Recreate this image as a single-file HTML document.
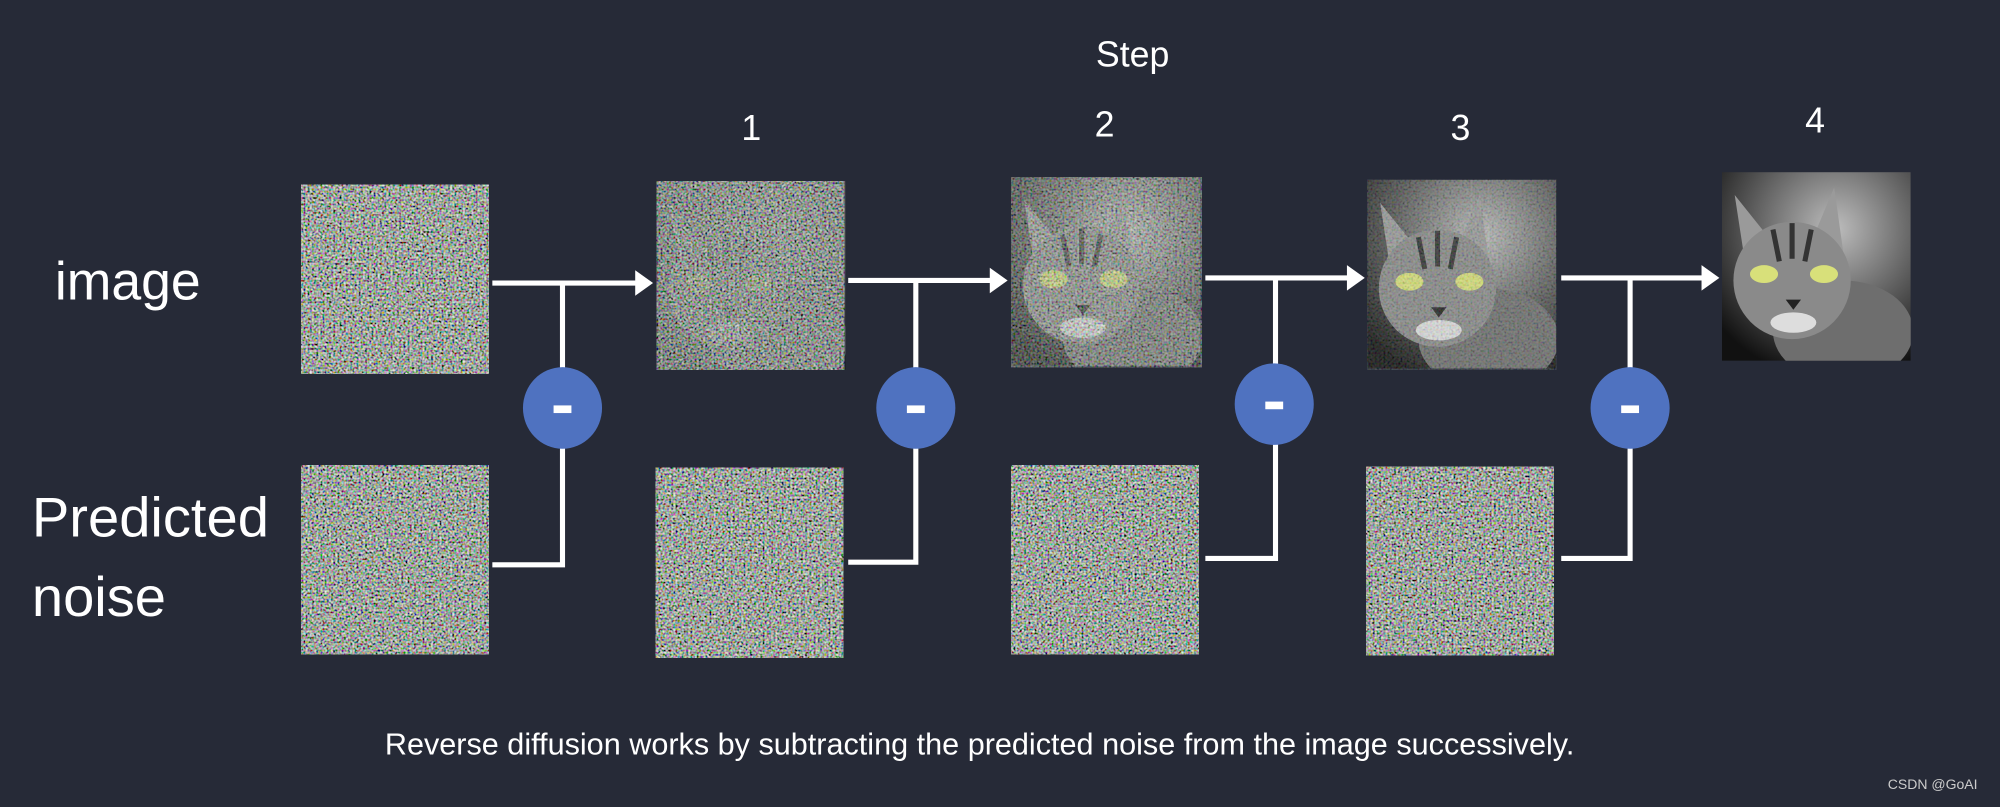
<!DOCTYPE html>
<html><head><meta charset="utf-8"><style>
html,body{margin:0;padding:0;background:#262a37;}
svg{display:block}
text{font-family:"Liberation Sans","DejaVu Sans",sans-serif;fill:#fff}
</style></head><body>
<svg width="2000" height="807" viewBox="0 0 1568 633" preserveAspectRatio="none" xmlns="http://www.w3.org/2000/svg">
<defs>
<filter id="noise" x="0" y="0" width="100%" height="100%">
<feTurbulence type="fractalNoise" baseFrequency="0.6" numOctaves="1" seed="3"/>
<feColorMatrix type="matrix" values="1.6 0.3 0.3 0 -0.75  0.3 1.6 0.3 0 -0.72  0.3 0.3 1.6 0 -0.75  0 0 0 0 1"/>
</filter>
<filter id="noise2" x="0" y="0" width="100%" height="100%">
<feTurbulence type="fractalNoise" baseFrequency="0.6" numOctaves="1" seed="11"/>
<feColorMatrix type="matrix" values="1.6 0.3 0.3 0 -0.75  0.3 1.6 0.3 0 -0.72  0.3 0.3 1.6 0 -0.75  0 0 0 0 1"/>
</filter>
<radialGradient id="bg4" cx="0.6" cy="0.3" r="0.8"><stop offset="0" stop-color="#bdbdbd"/><stop offset="0.6" stop-color="#555"/><stop offset="1" stop-color="#111"/></radialGradient>
<clipPath id="cc"><rect x="0" y="0" width="148" height="148"/></clipPath>
<g id="cat" clip-path="url(#cc)">
<rect x="0" y="0" width="148" height="148" fill="url(#bg4)"/>
<ellipse cx="95" cy="125" rx="55" ry="40" fill="#6e6e6e"/>
<path d="M10 18 L42 58 L18 70 Z" fill="#9a9a9a"/>
<path d="M88 12 L70 55 L95 62 Z" fill="#9a9a9a"/>
<ellipse cx="55" cy="85" rx="46" ry="46" fill="#8a8a8a"/>
<path d="M40 45 L45 70 M55 40 L55 68 M70 45 L65 70" stroke="#333" stroke-width="4"/>
<ellipse cx="33" cy="80" rx="11" ry="7" fill="#d8e07a"/>
<ellipse cx="80" cy="80" rx="11" ry="7" fill="#d8e07a"/>
<path d="M50 100 L62 100 L56 108 Z" fill="#222"/>
<ellipse cx="56" cy="118" rx="18" ry="8" fill="#ddd"/>
</g>
</defs>
<rect width="1568" height="633" fill="#262a37"/>
<text x="888" y="52" font-size="28" text-anchor="middle">Step</text>
<text x="589" y="110" font-size="28" text-anchor="middle">1</text>
<text x="866" y="107" font-size="28" text-anchor="middle">2</text>
<text x="1145" y="110" font-size="28" text-anchor="middle">3</text>
<text x="1423" y="104" font-size="28" text-anchor="middle">4</text>
<text x="43" y="235" font-size="42">image</text>
<text x="25" y="421" font-size="44">Predicted</text>
<text x="25" y="483" font-size="44">noise</text>
<rect x="236" y="145" width="147" height="148" filter="url(#noise)"/>
<rect x="236" y="365" width="147" height="148" filter="url(#noise2)"/>
<rect x="514" y="367" width="147" height="149" filter="url(#noise)"/>
<rect x="793" y="365" width="147" height="148" filter="url(#noise2)"/>
<rect x="1071" y="366" width="147" height="148" filter="url(#noise)"/>
<use href="#cat" x="515" y="142" opacity="0.6"/>
<rect x="515" y="142" width="147" height="148" filter="url(#noise2)" opacity="0.8"/>
<use href="#cat" x="793" y="139"/>
<rect x="793" y="139" width="149" height="149" filter="url(#noise)" opacity="0.5"/>
<use href="#cat" x="1072" y="141"/>
<rect x="1072" y="141" width="148" height="149" filter="url(#noise2)" opacity="0.2"/>
<use href="#cat" x="1350" y="135"/>
<g stroke="#fff" stroke-width="4" fill="none">
<path d="M386 222 H500"/><path d="M441 222 V300 M441 342 V443 H386"/>
<path d="M665 220 H778"/><path d="M718 220 V300 M718 342 V441 H665"/>
<path d="M945 218 H1058"/><path d="M1000 218 V298 M1000 338 V438 H945"/>
<path d="M1224 218 H1336"/><path d="M1278 218 V300 M1278 342 V438 H1224"/>
</g>
<g fill="#fff">
<path d="M498 212 L512 222 L498 232 Z"/>
<path d="M776 210 L790 220 L776 230 Z"/>
<path d="M1056 208 L1070 218 L1056 228 Z"/>
<path d="M1334 208 L1348 218 L1334 228 Z"/>
</g>
<g fill="#4f72c0">
<ellipse cx="441" cy="320" rx="31" ry="32"/>
<ellipse cx="718" cy="320" rx="31" ry="32"/>
<ellipse cx="999" cy="317" rx="31" ry="32"/>
<ellipse cx="1278" cy="320" rx="31" ry="32"/>
</g>
<g fill="#fff">
<rect x="434" y="318" width="14" height="6"/>
<rect x="711" y="318" width="14" height="6"/>
<rect x="992" y="315" width="14" height="6"/>
<rect x="1271" y="318" width="14" height="6"/>
</g>
<text x="768" y="592" font-size="24" text-anchor="middle">Reverse diffusion works by subtracting the predicted noise from the image successively.</text>
<text x="1480" y="619" font-size="11" style="fill:#ccc">CSDN @GoAI</text>
</svg>
</body></html>
